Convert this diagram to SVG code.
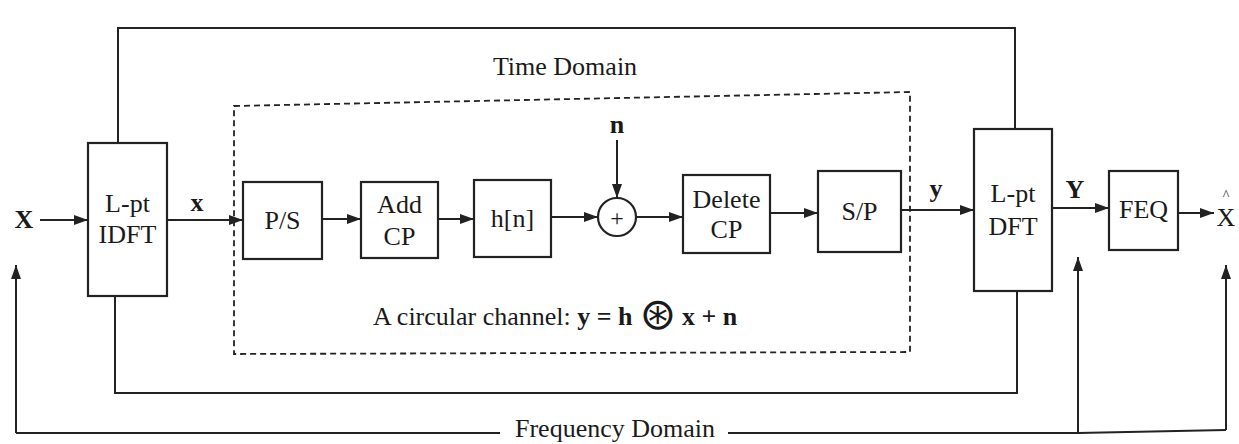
<svg xmlns="http://www.w3.org/2000/svg" width="1239" height="444" viewBox="0 0 1239 444">
<defs>
<marker id="ah" viewBox="0 0 14 10" refX="14" refY="5" markerWidth="14" markerHeight="10" markerUnits="userSpaceOnUse" orient="auto">
<path d="M0,0 L14,5 L0,10 Z" fill="#222"/>
</marker>
</defs>
<style>
.bx{fill:none;stroke:#222;stroke-width:2.2}
.ln{fill:none;stroke:#222;stroke-width:2}
.ar{fill:none;stroke:#222;stroke-width:2;marker-end:url(#ah)}
.dash{fill:none;stroke:#222;stroke-width:1.8;stroke-dasharray:6,4}
text{font-family:"Liberation Serif","Times New Roman",serif;font-size:26px;fill:#1a1a1a}
.c{text-anchor:middle}
.b{font-weight:bold}
</style>
<rect width="1239" height="444" fill="#fff"/>

<g id="connectors">
<path class="ln" d="M118,143 L118,28 L1015,28 L1015,129"/>
<path class="ln" d="M115,296 L115,393 L1017,393 L1017,291"/>
<path class="dash" d="M234,106 L910,92 L910,352 L234,354 Z"/>
<path class="ar" d="M40,220 L88,220"/>
<path class="ar" d="M167,220 L243,220"/>
<path class="ar" d="M322,219 L361,219"/>
<path class="ar" d="M438,219 L474,219"/>
<path class="ar" d="M551,217 L598,217"/>
<path class="ar" d="M617,140 L617,198"/>
<path class="ar" d="M636,217 L683,217"/>
<path class="ar" d="M770,213 L818,213"/>
<path class="ar" d="M901,210 L974,210"/>
<path class="ar" d="M1052,208 L1109,208"/>
<path class="ar" d="M1178,213 L1214,213"/>
<path class="ln" d="M16,433 L500,433"/>
<path class="ln" d="M728,433 L1078,433 L1226,430"/>
<path class="ar" d="M16,433 L16,265"/>
<path class="ar" d="M1078,433 L1078,257"/>
<path class="ar" d="M1226,430 L1226,265"/>
</g>

<g id="idft"><rect class="bx" x="88" y="143" width="79" height="153"/>
<text class="c" x="127.5" y="212">L-pt</text><text class="c" x="127.5" y="243">IDFT</text></g>
<g id="ps"><rect class="bx" x="243" y="182" width="79" height="77"/>
<text class="c" x="282.5" y="229">P/S</text></g>
<g id="addcp"><rect class="bx" x="361" y="182" width="77" height="76"/>
<text class="c" x="399.5" y="213">Add</text><text class="c" x="399.5" y="245">CP</text></g>
<g id="hn"><rect class="bx" x="474" y="180" width="77" height="77"/>
<text class="c" x="512.5" y="227">h[n]</text></g>
<g id="sum"><circle class="bx" cx="617" cy="217" r="19"/>
<text class="c" x="617" y="226" style="font-size:24px">+</text></g>
<g id="delcp"><rect class="bx" x="683" y="175" width="87" height="78"/>
<text class="c" x="726.5" y="208">Delete</text><text class="c" x="726.5" y="238">CP</text></g>
<g id="sp"><rect class="bx" x="818" y="171" width="83" height="81"/>
<text class="c" x="859.5" y="220">S/P</text></g>
<g id="dft"><rect class="bx" x="974" y="129" width="78" height="162"/>
<text class="c" x="1013" y="202">L-pt</text><text class="c" x="1013" y="235">DFT</text></g>
<g id="feq"><rect class="bx" x="1109" y="171" width="69" height="79"/>
<text class="c" x="1143.5" y="218">FEQ</text></g>

<g id="labels">
<text class="c b" x="24" y="228">X</text>
<text class="c b" x="197" y="211">x</text>
<text class="c b" x="617" y="133">n</text>
<text class="c b" x="936" y="197">y</text>
<text class="c b" x="1075" y="198">Y</text>
<text class="c" x="1226" y="226">X</text>
<text class="c" x="1226" y="200" style="font-size:14px">^</text>
<text class="c" x="565" y="75">Time Domain</text>
<text x="515" y="437">Frequency Domain</text>
<text x="373" y="325">A circular channel: <tspan class="b">y = h</tspan></text>
<text class="c" x="658" y="329" style="font-family:'DejaVu Sans',sans-serif;font-size:44px">⊛</text>
<text x="682" y="325" class="b">x + n</text>
</g>
</svg>
